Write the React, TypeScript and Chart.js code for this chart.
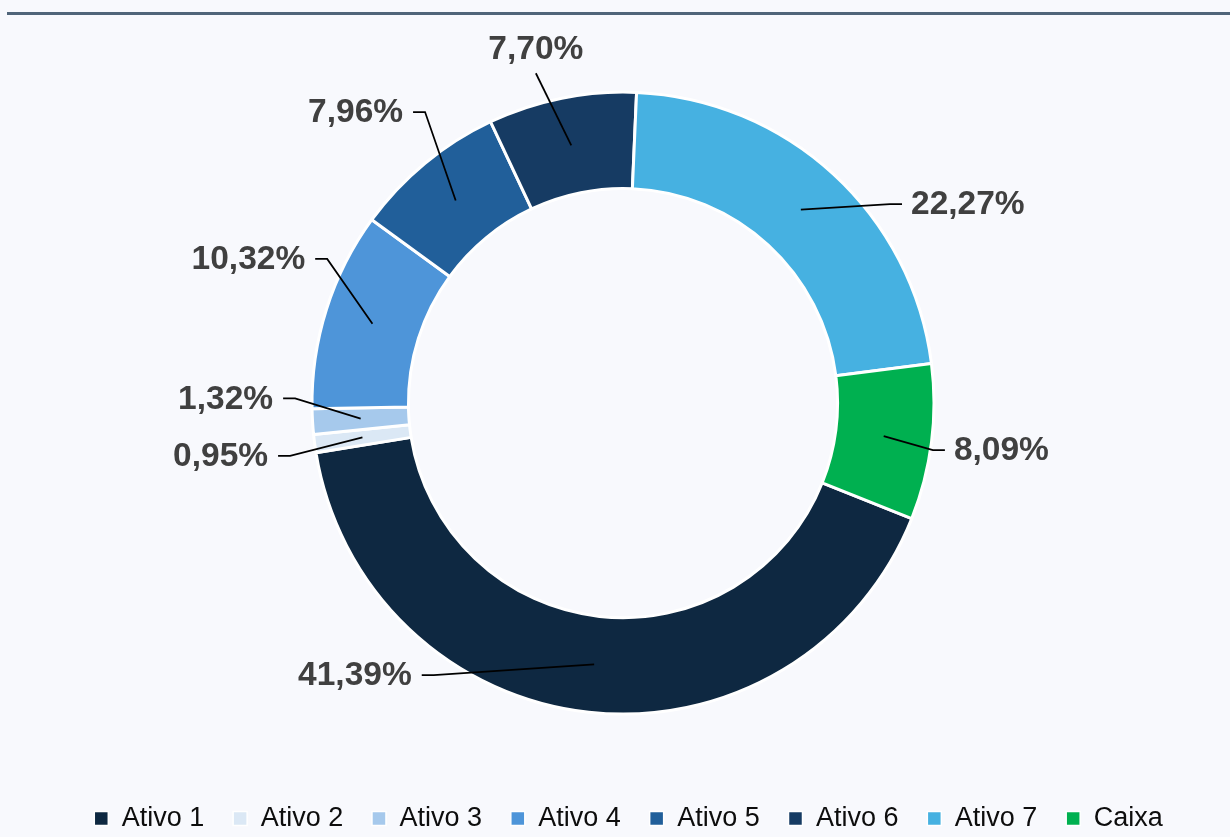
import React, { useEffect, useRef } from "react";
import { Chart, registerables } from "chart.js";

Chart.register(...registerables);

// ---- data ----
const categories = ["Ativo 1", "Ativo 2", "Ativo 3", "Ativo 4", "Ativo 5", "Ativo 6", "Ativo 7", "Caixa"];
const shares = [41.39, 0.95, 1.32, 10.32, 7.96, 7.7, 22.27, 8.09];
const sliceColors = ["#0e2841", "#dbe8f5", "#a6c9ec", "#4e95d9", "#215f9a", "#163b63", "#46b1e1", "#00b050"];

// ---- label placement (angle clockwise from 12 o'clock, distance as fraction of outer radius) ----
const labelAngles = [216.5, 261.3, 270.8, 295.1, 324.2, 345.2, 54.5, 98.3];
const labelDistances = [1.088, 1.122, 1.093, 1.093, 1.154, 1.097, 1.102, 1.046];
const labelSides = ["left", "left", "left", "left", "left", "top", "right", "right"];

const FONT = '"Liberation Sans", Arial, Helvetica, sans-serif';

const formatPct = (v: number) => v.toFixed(2).replace(".", ",") + "%";

const leaderLabels = {
  id: "leaderLabels",
  afterLayout(chart: any) {
    const lg = chart.legend;
    if (lg) {
      lg.left += 5.5;
      lg.right += 5.5;
    }
  },
  afterDatasetsDraw(chart: any) {
    const meta = chart.getDatasetMeta(0);
    const ctx = chart.ctx;
    const values = chart.data.datasets[0].data as number[];
    ctx.save();
    meta.data.forEach((arc: any, i: number) => {
      const p = arc.getProps(["x", "y", "outerRadius"], true);
      const s = arc.getCenterPoint(true);
      const ang = ((labelAngles[i] - 90) * Math.PI) / 180;
      const d = p.outerRadius * labelDistances[i];
      const ax = p.x + Math.cos(ang) * d;
      const ay = p.y + Math.sin(ang) * d;
      const side = labelSides[i];
      ctx.beginPath();
      ctx.moveTo(s.x, s.y);
      if (side === "left") ctx.lineTo(ax + 12, ay);
      else if (side === "right") ctx.lineTo(ax - 12, ay);
      ctx.lineTo(ax, ay);
      ctx.strokeStyle = "#000000";
      ctx.lineWidth = 1.75;
      ctx.stroke();
      ctx.font = `bold 33.5px ${FONT}`;
      ctx.fillStyle = "#404040";
      ctx.textBaseline = "middle";
      const text = formatPct(values[i]);
      if (side === "left") {
        ctx.textAlign = "right";
        ctx.fillText(text, ax - 10, ay + 1);
      } else if (side === "right") {
        ctx.textAlign = "left";
        ctx.fillText(text, ax + 9, ay + 1);
      } else {
        ctx.textAlign = "center";
        ctx.fillText(text, ax, ay - 23);
      }
    });
    ctx.restore();
  },
};

export default function App() {
  const canvasRef = useRef<HTMLCanvasElement | null>(null);

  useEffect(() => {
    if (!canvasRef.current) return;
    const chart = new Chart(canvasRef.current, {
      type: "doughnut",
      data: {
        labels: categories,
        datasets: [
          {
            data: shares,
            backgroundColor: sliceColors,
            borderColor: "#ffffff",
            borderWidth: 3,
          },
        ],
      },
      options: {
        responsive: false,
        animation: false,
        devicePixelRatio: 1,
        rotation: 111.8,
        cutout: "69%",
        radius: 311,
        layout: { padding: { top: 30, left: 16, right: 0, bottom: 0 } },
        plugins: {
          tooltip: { enabled: false },
          legend: {
            position: "bottom",
            align: "center",
            labels: {
              boxWidth: 14,
              boxHeight: 14,
              padding: 28.8,
              color: "#0d0d0d",
              font: { family: FONT, size: 27 },
              generateLabels: (c: any) => {
                const items = (Chart as any).overrides.doughnut.plugins.legend.labels.generateLabels(c);
                return items.map((it: any) => ({ ...it, lineWidth: 1.5, strokeStyle: "#ffffff" }));
              },
            },
          },
        },
      } as any,
      plugins: [leaderLabels],
    });
    return () => chart.destroy();
  }, []);

  return (
    <div
      style={{
        position: "fixed",
        left: 0,
        top: 0,
        width: 1230,
        height: 837,
        overflow: "hidden",
        background: "#f8f9fd",
      }}
    >
      <div style={{ position: "absolute", top: 12, left: 7, right: 0, height: 3, background: "#50657a" }} />
      <canvas
        ref={canvasRef}
        width={1230}
        height={842}
        style={{ position: "absolute", left: 0, top: 0, width: 1230, height: 842 }}
      />
    </div>
  );
}
